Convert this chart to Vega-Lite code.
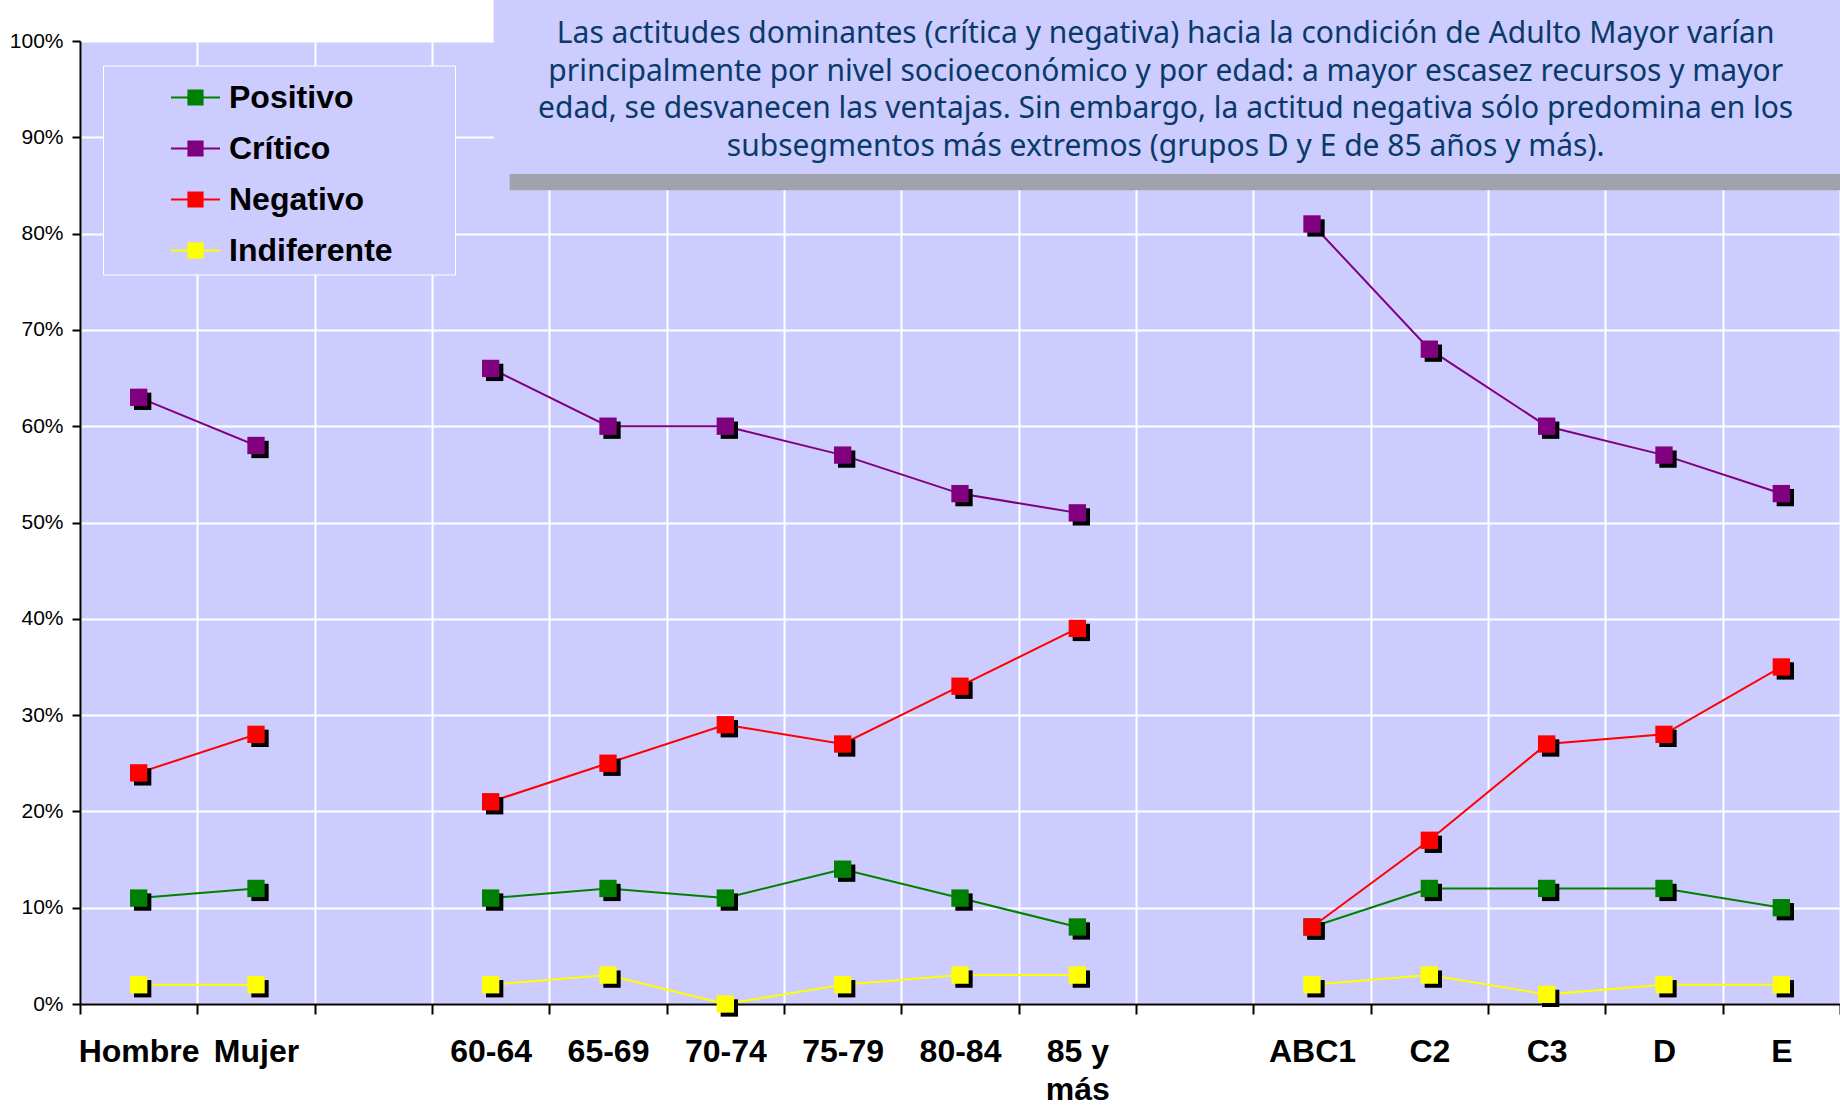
{
  "$schema": "https://vega.github.io/schema/vega-lite/v6.json",
  "width": 1760,
  "height": 963,
  "autosize": {"type": "none"},
  "padding": {"left": 80, "top": 41, "right": 0, "bottom": 101},
  "background": "white",
  "config": {
    "view": {"fill": "#CCCCFF", "stroke": null},
    "font": "Liberation Sans"
  },
  "data": {
    "values": [
      {"cat": "Hombre", "grupo": "Sexo", "serie": "Positivo", "valor": 11},
      {"cat": "Mujer", "grupo": "Sexo", "serie": "Positivo", "valor": 12},
      {"cat": "60-64", "grupo": "Edad", "serie": "Positivo", "valor": 11},
      {"cat": "65-69", "grupo": "Edad", "serie": "Positivo", "valor": 12},
      {"cat": "70-74", "grupo": "Edad", "serie": "Positivo", "valor": 11},
      {"cat": "75-79", "grupo": "Edad", "serie": "Positivo", "valor": 14},
      {"cat": "80-84", "grupo": "Edad", "serie": "Positivo", "valor": 11},
      {"cat": "85 y más", "grupo": "Edad", "serie": "Positivo", "valor": 8},
      {"cat": "ABC1", "grupo": "NSE", "serie": "Positivo", "valor": 8},
      {"cat": "C2", "grupo": "NSE", "serie": "Positivo", "valor": 12},
      {"cat": "C3", "grupo": "NSE", "serie": "Positivo", "valor": 12},
      {"cat": "D", "grupo": "NSE", "serie": "Positivo", "valor": 12},
      {"cat": "E", "grupo": "NSE", "serie": "Positivo", "valor": 10},
      {"cat": "Hombre", "grupo": "Sexo", "serie": "Crítico", "valor": 63},
      {"cat": "Mujer", "grupo": "Sexo", "serie": "Crítico", "valor": 58},
      {"cat": "60-64", "grupo": "Edad", "serie": "Crítico", "valor": 66},
      {"cat": "65-69", "grupo": "Edad", "serie": "Crítico", "valor": 60},
      {"cat": "70-74", "grupo": "Edad", "serie": "Crítico", "valor": 60},
      {"cat": "75-79", "grupo": "Edad", "serie": "Crítico", "valor": 57},
      {"cat": "80-84", "grupo": "Edad", "serie": "Crítico", "valor": 53},
      {"cat": "85 y más", "grupo": "Edad", "serie": "Crítico", "valor": 51},
      {"cat": "ABC1", "grupo": "NSE", "serie": "Crítico", "valor": 81},
      {"cat": "C2", "grupo": "NSE", "serie": "Crítico", "valor": 68},
      {"cat": "C3", "grupo": "NSE", "serie": "Crítico", "valor": 60},
      {"cat": "D", "grupo": "NSE", "serie": "Crítico", "valor": 57},
      {"cat": "E", "grupo": "NSE", "serie": "Crítico", "valor": 53},
      {"cat": "Hombre", "grupo": "Sexo", "serie": "Negativo", "valor": 24},
      {"cat": "Mujer", "grupo": "Sexo", "serie": "Negativo", "valor": 28},
      {"cat": "60-64", "grupo": "Edad", "serie": "Negativo", "valor": 21},
      {"cat": "65-69", "grupo": "Edad", "serie": "Negativo", "valor": 25},
      {"cat": "70-74", "grupo": "Edad", "serie": "Negativo", "valor": 29},
      {"cat": "75-79", "grupo": "Edad", "serie": "Negativo", "valor": 27},
      {"cat": "80-84", "grupo": "Edad", "serie": "Negativo", "valor": 33},
      {"cat": "85 y más", "grupo": "Edad", "serie": "Negativo", "valor": 39},
      {"cat": "ABC1", "grupo": "NSE", "serie": "Negativo", "valor": 8},
      {"cat": "C2", "grupo": "NSE", "serie": "Negativo", "valor": 17},
      {"cat": "C3", "grupo": "NSE", "serie": "Negativo", "valor": 27},
      {"cat": "D", "grupo": "NSE", "serie": "Negativo", "valor": 28},
      {"cat": "E", "grupo": "NSE", "serie": "Negativo", "valor": 35},
      {"cat": "Hombre", "grupo": "Sexo", "serie": "Indiferente", "valor": 2},
      {"cat": "Mujer", "grupo": "Sexo", "serie": "Indiferente", "valor": 2},
      {"cat": "60-64", "grupo": "Edad", "serie": "Indiferente", "valor": 2},
      {"cat": "65-69", "grupo": "Edad", "serie": "Indiferente", "valor": 3},
      {"cat": "70-74", "grupo": "Edad", "serie": "Indiferente", "valor": 0},
      {"cat": "75-79", "grupo": "Edad", "serie": "Indiferente", "valor": 2},
      {"cat": "80-84", "grupo": "Edad", "serie": "Indiferente", "valor": 3},
      {"cat": "85 y más", "grupo": "Edad", "serie": "Indiferente", "valor": 3},
      {"cat": "ABC1", "grupo": "NSE", "serie": "Indiferente", "valor": 2},
      {"cat": "C2", "grupo": "NSE", "serie": "Indiferente", "valor": 3},
      {"cat": "C3", "grupo": "NSE", "serie": "Indiferente", "valor": 1},
      {"cat": "D", "grupo": "NSE", "serie": "Indiferente", "valor": 2},
      {"cat": "E", "grupo": "NSE", "serie": "Indiferente", "valor": 2}
    ]
  },
  "layer": [
    {
      "mark": {"type": "line", "strokeWidth": 2},
      "encoding": {
        "x": {
          "field": "cat",
          "type": "nominal",
          "scale": {
            "domain": ["Hombre", "Mujer", "g1", "60-64", "65-69", "70-74", "75-79", "80-84", "85 y más", "g2", "ABC1", "C2", "C3", "D", "E"],
            "paddingInner": 0,
            "paddingOuter": 0
          },
          "axis": {
            "title": null,
            "tickBand": "extent",
            "labelExpr": "(datum.value == 'g1' || datum.value == 'g2') ? '' : (datum.value == '85 y más' ? ['85 y', 'más'] : datum.value)",
            "labelFont": "Liberation Sans",
            "labelFontWeight": "bold",
            "labelFontSize": 32,
            "labelColor": "black",
            "labelPadding": 22,
            "labelLineHeight": 38,
            "labelAngle": 0,
            "labelOverlap": false,
            "labelBound": false,
            "labelFlush": false,
            "tickSize": 10,
            "tickColor": "black",
            "tickWidth": 2,
            "domainColor": "black",
            "domainWidth": 2,
            "grid": true,
            "gridColor": "white",
            "gridWidth": 2,
            "gridOpacity": 1
          }
        },
        "y": {
          "field": "valor",
          "type": "quantitative",
          "scale": {"domain": [0, 100], "nice": false},
          "axis": {
            "title": null,
            "values": [0, 10, 20, 30, 40, 50, 60, 70, 80, 90, 100],
            "labelExpr": "datum.value + '%'",
            "labelFont": "Liberation Sans",
            "labelFontSize": 21,
            "labelColor": "black",
            "labelPadding": 9,
            "tickSize": 8,
            "tickColor": "black",
            "tickWidth": 2,
            "domainColor": "black",
            "domainWidth": 2,
            "grid": true,
            "gridColor": "white",
            "gridWidth": 2,
            "gridOpacity": 1
          }
        },
        "stroke": {
          "field": "serie",
          "type": "nominal",
          "scale": {"domain": ["Indiferente", "Negativo", "Crítico", "Positivo"], "range": ["#FFFF00", "#FF0000", "#800080", "#008000"]},
          "legend": null
        },
        "detail": {"field": "grupo", "type": "nominal"}
      }
    },
    {
      "mark": {"type": "point", "shape": "square", "filled": true, "size": 300, "color": "black", "opacity": 1, "xOffset": 4, "yOffset": 4},
      "encoding": {
        "x": {"field": "cat", "type": "nominal"},
        "y": {"field": "valor", "type": "quantitative"}
      }
    },
    {
      "mark": {"type": "point", "shape": "square", "filled": true, "size": 300, "opacity": 1},
      "encoding": {
        "x": {"field": "cat", "type": "nominal"},
        "y": {"field": "valor", "type": "quantitative"},
        "color": {
          "field": "serie",
          "type": "nominal",
          "scale": {"domain": ["Positivo", "Crítico", "Negativo", "Indiferente"], "range": ["#008000", "#800080", "#FF0000", "#FFFF00"]},
          "legend": {
            "title": null,
            "orient": "none",
            "legendX": 23,
            "legendY": 24.5,
            "symbolType": "M-1,-0.04H1V0.04H-1Z M-0.33,-0.33H0.33V0.33H-0.33Z",
            "symbolSize": 2401,
            "symbolStrokeWidth": 0,
            "symbolOpacity": 1,
            "symbolOffset": 60.5,
            "labelOffset": 9,
            "labelFont": "Liberation Sans",
            "labelFontWeight": "bold",
            "labelFontSize": 32,
            "labelColor": "black",
            "labelLimit": 600,
            "labelExpr": "datum.label + '\u2800\u00a0\u2800'",
            "padding": 7.5,
            "rowPadding": 10,
            "strokeColor": "white",
            "fillColor": "#CCCCFF"
          }
        }
      }
    },
    {
      "data": {"values": [{}]},
      "mark": {"type": "rect", "color": "#CCCCFF", "opacity": 1, "xOffset": 3},
      "encoding": {
        "x": {"datum": "60-64"},
        "x2": {"value": "width"},
        "y": {"datum": 104.3},
        "y2": {"datum": 86.2}
      }
    },
    {
      "data": {"values": [{}]},
      "mark": {"type": "rect", "color": "#a2a2ae", "opacity": 1, "xOffset": 19},
      "encoding": {
        "x": {"datum": "60-64"},
        "x2": {"value": "width"},
        "y": {"datum": 86.2},
        "y2": {"datum": 84.5}
      }
    },
    {
      "data": {"values": [{}]},
      "mark": {
        "type": "text",
        "text": [
          "Las actitudes dominantes (crítica y negativa) hacia la condición de Adulto Mayor varían",
          "principalmente por nivel socioeconómico y por edad: a mayor escasez recursos y mayor",
          "edad, se desvanecen las ventajas. Sin embargo, la actitud negativa sólo predomina en los",
          "subsegmentos más extremos (grupos D y E de 85 años y más)."
        ],
        "font": "Noto Sans",
        "fontSize": 30,
        "color": "#0a3a6a",
        "align": "center",
        "baseline": "alphabetic",
        "lineHeight": 37.7,
        "dx": -29,
        "dy": 2
      },
      "encoding": {
        "x": {"datum": "g2"},
        "y": {"datum": 100}
      }
    }
  ]
}
